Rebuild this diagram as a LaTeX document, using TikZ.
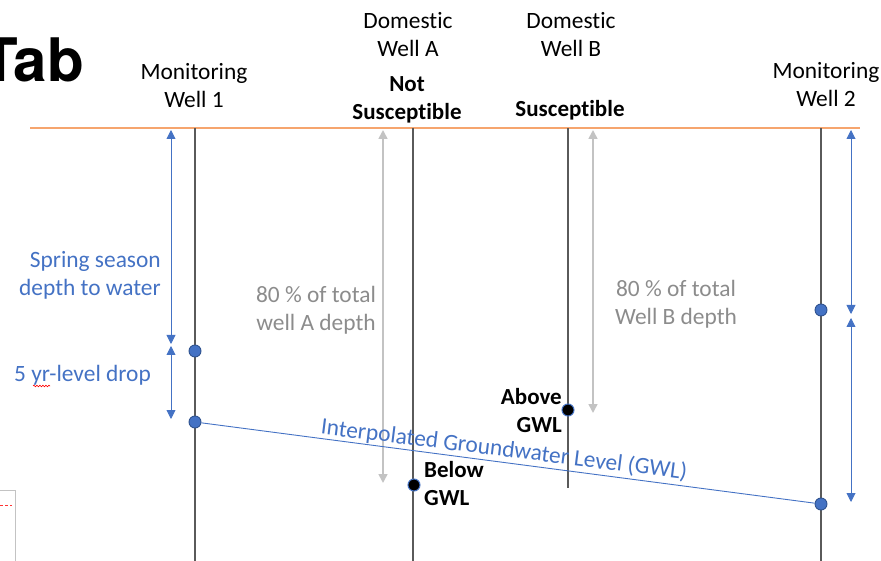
\documentclass[tikz,border=0pt]{standalone}
\usepackage{fontspec}
\setmainfont{Carlito}[Ligatures=NoCommon]
\newfontfamily\tabfont{TeX Gyre Heros}
\usetikzlibrary{arrows.meta,decorations.pathmorphing}
\definecolor{wblue}{RGB}{68,114,196}
\definecolor{dblue}{RGB}{47,82,143}
\definecolor{wgray}{RGB}{90,90,90}
\definecolor{lgray}{RGB}{195,195,195}
\definecolor{tgray}{RGB}{140,140,140}
\definecolor{sorange}{RGB}{246,165,110}
\begin{document}
\begin{tikzpicture}[x=1pt,y=-1pt,
  lbl/.style={font=\fontsize{23.4}{28}\selectfont, align=center, inner sep=0pt},
  boldlbl/.style={lbl, font=\fontsize{23}{28}\selectfont\bfseries},
  well/.style={draw=wgray, line width=1.4pt},
  dimarrow/.style={draw=wblue, line width=0.9pt, {Triangle[width=9pt,length=9pt]}-{Triangle[width=9pt,length=9pt]}},
  grayarrow/.style={draw=lgray, line width=1.6pt, {Triangle[width=9pt,length=9pt]}-{Triangle[width=9pt,length=9pt]}},
  bpt/.style={circle, minimum size=12pt, inner sep=0pt, fill=wblue, draw=dblue, line width=0.9pt},
  kpt/.style={circle, minimum size=12pt, inner sep=0pt, fill=black, draw=wblue, line width=1pt}]
\useasboundingbox (0,0) rectangle (881,561);

% title fragment
\node[anchor=base east, inner sep=0pt, font=\fontsize{60}{60}\selectfont\tabfont\bfseries] (tab) at (84,82) {Tab};

% surface line
\coordinate (sl) at (30,128);
\coordinate (sr) at (860,128);
\draw[draw=sorange, line width=1.3pt] (sl) -- (sr);

% wells
\coordinate (w1t) at (195,128); \coordinate (w1b) at (195,561);
\coordinate (wat) at (413,128); \coordinate (wab) at (413,561);
\coordinate (wbt) at (568,128); \coordinate (wbb) at (568,488);
\coordinate (w2t) at (821,128); \coordinate (w2b) at (821,561);
\draw[well] (w1t) -- (w1b);
\draw[well] (wat) -- (wab);
\draw[well] (wbt) -- (wbb);
\draw[well] (w2t) -- (w2b);

% labels
\node[lbl] (lw1) at (194,86) {Monitoring\\Well 1};
\node[lbl] (lwa) at (408,35) {Domestic\\Well A};
\node[boldlbl] (lnot) at (407,100) {Not\\Susceptible};
\node[lbl] (lwb) at (571,35) {Domestic\\Well B};
\node[boldlbl] (lsus) at (570,110) {Susceptible};
\node[lbl] (lw2) at (826,85) {Monitoring\\Well 2};

% blue dimension arrows
\coordinate (a1t) at (171,130); \coordinate (a1b) at (171,344);
\coordinate (a2t) at (171,346); \coordinate (a2b) at (171,419);
\draw[dimarrow] (a1t) -- (a1b);
\draw[dimarrow] (a2t) -- (a2b);
\coordinate (a3t) at (851,130); \coordinate (a3b) at (851,314);
\coordinate (a4t) at (851,318); \coordinate (a4b) at (851,502);
\draw[dimarrow] (a3t) -- (a3b);
\draw[dimarrow] (a4t) -- (a4b);

\node[lbl, align=right, anchor=east, text=wblue] (spring) at (161,275) {Spring season\\depth to water};
\node[lbl, anchor=west, text=wblue] (drop) at (14,375) {5 yr-level drop};
\draw[red, line width=0.6pt, decorate, decoration={snake, amplitude=0.8pt, segment length=3pt}] (33,386) -- (50,386);

% gray arrows
\coordinate (g1t) at (383,130); \coordinate (g1b) at (383,483);
\coordinate (g2t) at (593,130); \coordinate (g2b) at (593,413);
\draw[grayarrow] (g1t) -- (g1b);
\draw[grayarrow] (g2t) -- (g2b);
\node[lbl, text=tgray] (ga) at (316,310) {80 \% of total\\well A depth};
\node[lbl, text=tgray] (gb) at (676,304) {80 \% of total\\Well B depth};

% GWL line and points
\node[bpt] (p1a) at (195,351) {};
\node[bpt] (p1b) at (195,422) {};
\node[bpt] (p2a) at (821,310) {};
\node[bpt] (p2b) at (821,504) {};
\draw[wblue, line width=0.9pt] (p1b) -- (p2b);
\node[lbl, text=wblue, rotate=-7.1] (gwl) at (504,450) {Interpolated Groundwater Level (GWL)};

\node[kpt] (ka) at (414,485) {};
\node[kpt] (kb) at (568,410) {};
\node[boldlbl, align=right, anchor=east] (above) at (562,411) {Above\\GWL};
\node[boldlbl, align=left, anchor=west] (below) at (424,484) {Below\\GWL};

% bottom-left fragment
\coordinate (f1) at (0,490); \coordinate (f2) at (15,490); \coordinate (f3) at (15,561);
\draw[draw=lgray, line width=0.8pt] (f1) -- (f2) -- (f3);
\coordinate (r1) at (0,505); \coordinate (r2) at (12,505);
\draw[red!80, line width=0.8pt, dash pattern=on 3pt off 2pt] (r1) -- (r2);
\end{tikzpicture}
\end{document}
